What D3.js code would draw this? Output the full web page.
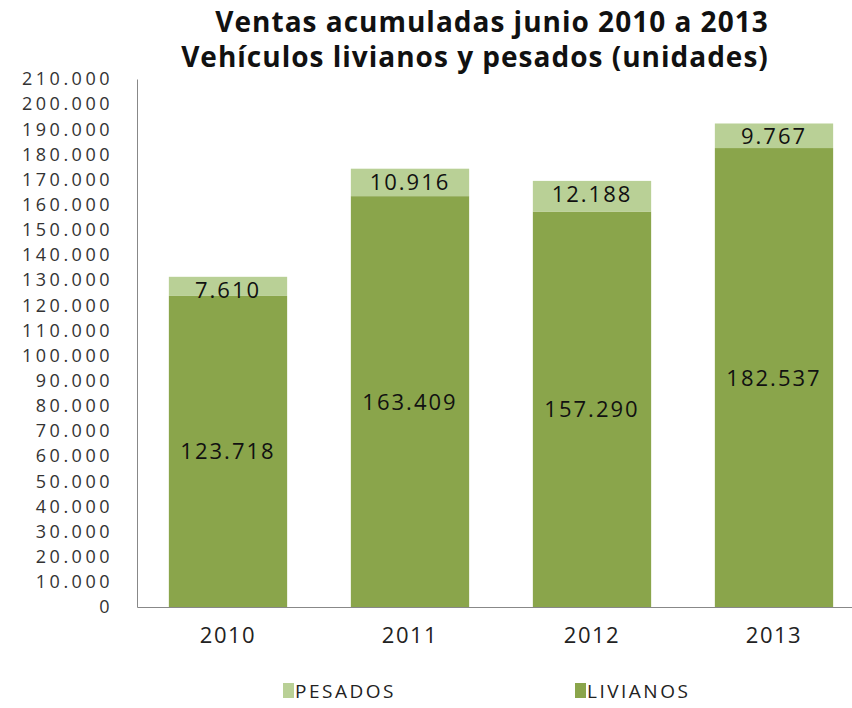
<!DOCTYPE html>
<html>
<head>
<meta charset="utf-8">
<script src="https://cdn.jsdelivr.net/npm/d3@7"></script>
<style>
  body { margin: 0; background: #fff; }
  svg { font-family: "Open Sans", "Liberation Sans", sans-serif; }
</style>
</head>
<body>
<div id="chart"></div>
<script>
const years = ["2010", "2011", "2012", "2013"];
const livianos = [123718, 163409, 157290, 182537];
const pesados = [7610, 10916, 12188, 9767];
const yTicks = d3.range(0, 210001, 10000);

const width = 852;
const height = 708;
const margin = { top: 79, right: -13, bottom: 101, left: 137 };

const svg = d3.select("#chart")
  .append("svg")
  .attr("width", width)
  .attr("height", height);

const colorLiv = "#8aa54b";
const colorPes = "#b9d096";

const x = d3.scaleBand()
  .domain(years)
  .range([margin.left, width - margin.right])
  .paddingInner(0.35)
  .paddingOuter(0.175);

const y = d3.scaleLinear()
  .domain([0, 210000])
  .range([height - margin.bottom, margin.top]);

const fmt = d => d3.format(",")(d).replace(/,/g, ".");

// title
svg.append("text")
  .attr("x", 492).attr("y", 32)
  .attr("text-anchor", "middle")
  .style("font-size", "28px").style("font-weight", "bold")
  .style("letter-spacing", "1px")
  .attr("fill", "#111")
  .text("Ventas acumuladas junio 2010 a 2013");
svg.append("text")
  .attr("x", 475).attr("y", 67)
  .attr("text-anchor", "middle")
  .style("font-size", "28px").style("font-weight", "bold")
  .style("letter-spacing", "1px")
  .attr("fill", "#111")
  .text("Vehículos livianos y pesados (unidades)");

// y axis
const yAxis = svg.append("g")
  .attr("transform", `translate(${margin.left},0)`)
  .call(d3.axisLeft(y).tickValues(yTicks).tickSize(0).tickPadding(24).tickFormat(fmt));
yAxis.attr("font-family", null);
yAxis.select(".domain").attr("stroke", "#888");
yAxis.selectAll("text")
  .style("font-size", "18px").style("letter-spacing", "3.5px").attr("fill", "#333");

// x axis
const xAxis = svg.append("g")
  .attr("transform", `translate(0,${y(0)})`)
  .call(d3.axisBottom(x).tickSize(0).tickPadding(20));
xAxis.attr("font-family", null);
xAxis.select(".domain").attr("stroke", "#888");
xAxis.selectAll("text")
  .style("font-size", "22px").style("letter-spacing", "1.5px").attr("fill", "#222");

// bars
const bars = svg.append("g");
bars.selectAll(".liv")
  .data(years)
  .join("rect")
  .attr("x", d => x(d))
  .attr("width", x.bandwidth())
  .attr("y", (d, i) => y(livianos[i]))
  .attr("height", (d, i) => y(0) - y(livianos[i]))
  .attr("fill", colorLiv);

bars.selectAll(".pes")
  .data(years)
  .join("rect")
  .attr("x", d => x(d))
  .attr("width", x.bandwidth())
  .attr("y", (d, i) => y(livianos[i] + pesados[i]))
  .attr("height", (d, i) => y(livianos[i]) - y(livianos[i] + pesados[i]))
  .attr("fill", colorPes);

// labels
const labels = svg.append("g")
  .style("font-size", "22px")
  .style("letter-spacing", "2px")
  .attr("fill", "#111")
  .attr("text-anchor", "middle");

labels.selectAll(".lliv")
  .data(years)
  .join("text")
  .attr("x", d => x(d) + x.bandwidth() / 2)
  .attr("y", (d, i) => (y(0) + y(livianos[i])) / 2 + 8)
  .text((d, i) => fmt(livianos[i]));

labels.selectAll(".lpes")
  .data(years)
  .join("text")
  .attr("x", d => x(d) + x.bandwidth() / 2)
  .attr("y", (d, i) => y(livianos[i] + pesados[i]) + 21)
  .text((d, i) => fmt(pesados[i]));

// legend
const legendItems = [
  { name: "PESADOS", color: colorPes, x: 283 },
  { name: "LIVIANOS", color: colorLiv, x: 575 }
];
const legend = svg.append("g");
legend.selectAll("rect")
  .data(legendItems)
  .join("rect")
  .attr("x", d => d.x)
  .attr("y", 683)
  .attr("width", 11)
  .attr("height", 15)
  .attr("fill", d => d.color);
legend.selectAll("text")
  .data(legendItems)
  .join("text")
  .attr("x", d => d.x + 12)
  .attr("y", 698)
  .style("font-size", "19px")
  .style("letter-spacing", "2.5px")
  .attr("fill", "#222")
  .text(d => d.name);
</script>
</body>
</html>
